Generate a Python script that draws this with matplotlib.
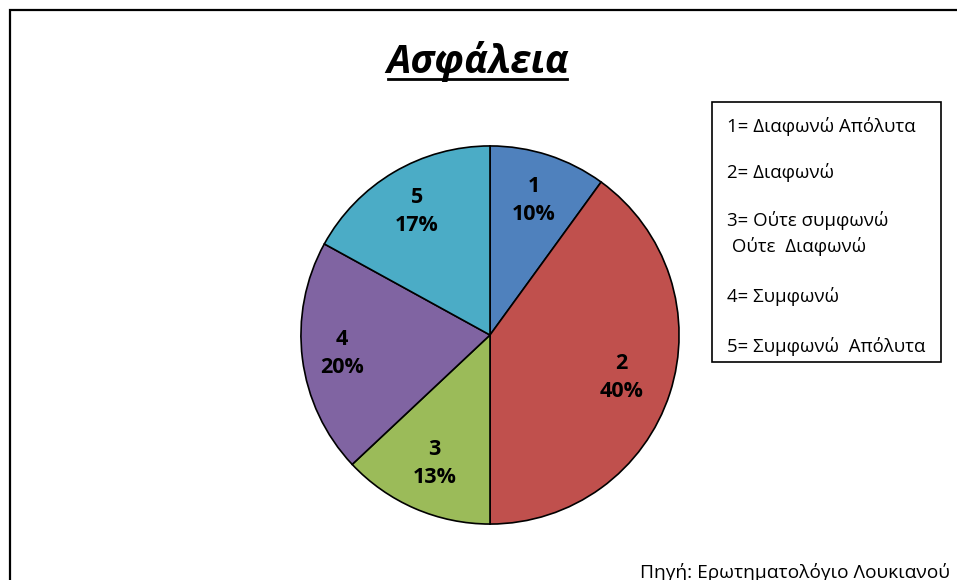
import numpy as np
import matplotlib
matplotlib.use("Agg")
import matplotlib.pyplot as plt
from matplotlib.patches import Rectangle
from matplotlib.lines import Line2D

plt.rcParams['font.family'] = ['Open Sans', 'DejaVu Sans']

title = "Ασφάλεια"
categories = ["1", "2", "3", "4", "5"]
shares = [10, 40, 13, 20, 17]
colors = ["#4F81BD", "#C0504D", "#9BBB59", "#8064A2", "#4BACC6"]
label_dist = [0.75, 0.73, 0.74, 0.79, 0.76]
legend_lines = [
    "1= Διαφωνώ Απόλυτα",
    "2= Διαφωνώ",
    "3= Ούτε συμφωνώ",
    " Ούτε  Διαφωνώ",
    "4= Συμφωνώ",
    "5= Συμφωνώ  Απόλυτα",
]
legend_rows_px = [126, 173, 220, 247, 296, 347]
source = "Πηγή: Ερωτηματολόγιο Λουκιανού"

W, H = 957, 580
fig = plt.figure(figsize=(W / 100, H / 100), dpi=100)
fig.patch.set_facecolor("white")


def fx(px):
    return px / W


def fy(py):
    return 1 - py / H


# chart frame (extends past the right and bottom edges)
fig.add_artist(Rectangle((fx(10), fy(600)), fx(1000), 590 / H,
                         transform=fig.transFigure, fill=False,
                         edgecolor="black", linewidth=1.6))

# pie
cx, cy, r = 490, 335, 190
ax = fig.add_axes([fx(cx - r), fy(cy + r), 2 * r / W, 2 * r / H])
labels = [f"{c}\n{s}%" for c, s in zip(categories, shares)]
wedges, texts = ax.pie(shares, colors=colors, startangle=90, counterclock=False,
                       labels=labels, labeldistance=0.75,
                       wedgeprops=dict(edgecolor="black", linewidth=1.2),
                       textprops=dict(fontsize=15.5, fontweight="bold",
                                      ha="center", va="center",
                                      linespacing=1.45))
# place each label along its wedge's mid-angle at its own distance
for w, txt, d in zip(wedges, texts, label_dist):
    ang = np.deg2rad((w.theta1 + w.theta2) / 2)
    txt.set_position((d * np.cos(ang), d * np.sin(ang)))
ax.set_xlim(-1.005, 1.005)
ax.set_ylim(-1.005, 1.005)
ax.set_aspect("equal")
ax.axis("off")

# title with underline
t = fig.text(fx(478), fy(62), title, fontsize=28, fontweight="bold",
             fontstyle="italic", ha="center", va="center")
uy = fy(79)
fig.add_artist(Line2D([fx(388), fx(567)], [uy, uy],
                      transform=fig.transFigure, color="black", linewidth=2))

# legend box
fig.add_artist(Rectangle((fx(712), fy(362)), fx(941 - 712), 260 / H,
                         transform=fig.transFigure, fill=False,
                         edgecolor="black", linewidth=1.2))
for line, ypx in zip(legend_lines, legend_rows_px):
    fig.text(fx(727), fy(ypx), line, fontsize=13.4, fontweight="medium",
             ha="left", va="center")

# source
fig.text(fx(950), fy(572), source, fontsize=13.8, fontweight="medium",
         ha="right", va="center")

fig.savefig("out.png", dpi=100, facecolor="white")
